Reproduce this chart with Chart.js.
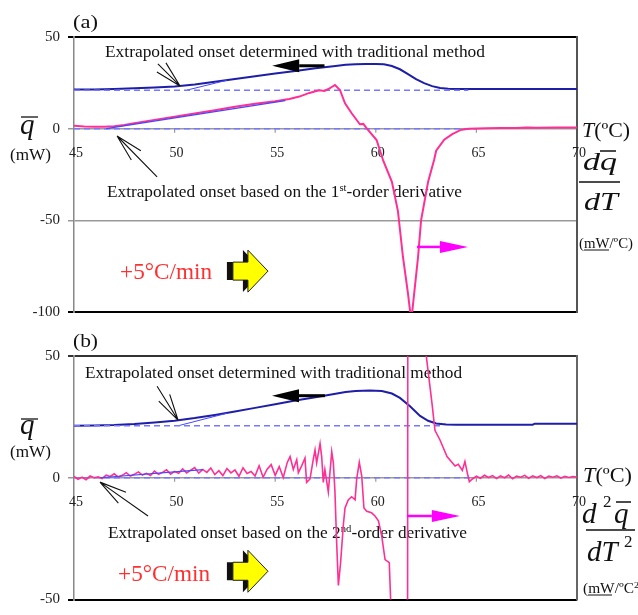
<!DOCTYPE html>
<html><head><meta charset="utf-8">
<script src="https://cdn.jsdelivr.net/npm/chart.js@4.4.1/dist/chart.umd.min.js"></script>
<style>
html,body{margin:0;padding:0;background:#fff;}
#wrap{position:relative;width:638px;height:615px;overflow:hidden;}
canvas{position:absolute;left:0;top:0;}
</style></head><body>
<div id="wrap">
<canvas id="ca" width="638" height="615"></canvas>
<canvas id="cb" width="638" height="615"></canvas>
</div>
<script>
const FONT = "'Liberation Serif', 'Times New Roman', serif";
const xTicks = [45, 50, 55, 60, 65, 70];

// ---- Panel (a): heat flow q and first derivative ----
const aHeatT = [45,46,47,48,49,50,51,52,53,54,55,56,57,58,58.5,59,59.5,60,60.4,60.8,61.2,61.6,62,62.4,62.8,63.2,63.6,64,66,70];
const aHeat  = [21.4,21.4,21.6,22.0,22.5,23.0,24.1,25.6,27.1,28.6,30.1,31.5,32.9,34.2,34.9,35.2,35.3,35.3,35.1,34.2,32.4,29.8,27.0,24.8,23.2,22.2,21.8,21.7,21.6,21.6];
const aBaseT = [45, 64.6];
const aBase  = [21.0, 21.0];
const aTanT  = [50.6, 52.6];
const aTan   = [21.0, 26.4];
const aDerivT = [45,45.5,46,46.5,47,47.5,48,49,50,51,52,53,54,55,55.7,56.2,56.7,57.0,57.2,57.45,57.7,57.85,57.97,58.22,58.47,58.8,59.21,59.38,59.55,60.04,60.37,60.8,61.1,61.35,61.6,61.72,61.8,62.1,62.25,62.6,62.9,63.0,63.4,63.8,64.2,64.6,65.5,66.2,67,67.5,68,69,70];
const aDeriv  = [1.6,1.2,1.0,1.0,1.3,2.0,3.0,4.8,6.5,8.3,10.1,12.0,13.6,15.0,16.2,17.5,19.5,20.4,21.0,20.6,22.0,23.0,23.8,21.1,13.8,8.4,2.4,2.6,0.2,-6.2,-17.5,-29,-45,-70,-90,-101,-101,-70,-50,-29,-17,-12,-6,-3,-0.8,0,0.2,0.4,0.3,0.6,0.5,0.6,0.7];
const aZeroT = [45, 65];
const aZero  = [0, 0];
const aDTanT = [46.6, 55.5];
const aDTan  = [0, 15.3];

// ---- Panel (b): heat flow q and second derivative ----
const bHeatT = [45,46,47,48,49,50,51,52,53,54,55,56,57,58,58.5,59,59.7,60.3,60.8,61.2,61.7,62.2,62.6,63.0,63.5,64,67.8,67.9,70];
const bHeat  = [21.4,21.5,21.7,22.1,22.7,23.4,24.5,25.8,27.2,28.7,30.2,31.7,33.1,34.5,35.2,35.6,35.8,35.6,34.6,32.8,29.4,25.4,23.4,22.3,21.9,21.8,21.8,22.2,22.2];
const bBaseT = [45, 63.3];
const bBase  = [21.4, 21.4];
const bTanT  = [50.2, 52.6];
const bTan   = [21.4, 26.5];
const bDerivT = [45.0,45.2,45.4,45.6,45.8,46.0,46.2,46.4,46.6,46.8,
  47.0,47.2,47.4,47.6,47.8,48.0,48.2,48.4,48.6,48.8,
  49.0,49.2,49.4,49.6,49.8,50.0,50.2,50.4,50.6,50.8,
  51.0,51.2,51.4,51.6,51.8,52.0,52.2,52.4,52.6,52.8,
  53.0,53.2,53.4,53.6,53.8,54.0,54.2,54.4,54.6,54.8,
  55.0,55.2,55.4,55.6,
  55.74,55.90,56.07,56.15,56.31,56.48,56.56,56.73,56.89,56.98,
  57.06,57.23,57.31,57.39,57.47,57.64,57.81,57.89,57.97,58.05,
  58.14,58.25,58.39,58.47,58.63,58.80,58.97,59.05,59.18,59.30,
  59.41,59.55,59.79,59.96,60.13,60.29,60.46,60.67,60.74,60.80,
  61.55,61.62,62.48,62.80,62.94,63.19,63.54,63.94,64.10,64.30,
  64.43,64.58,64.65,64.80,
  65.0,65.2,65.4,65.6,65.8,66.0,66.2,66.4,66.6,66.8,67.0,67.2,67.4,67.6,67.8,68.0,68.2,68.4,68.6,68.8,69.0,69.2,69.4,69.6,69.8,70.0];
const bDeriv = [0.5,-0.6,0.2,-0.8,0.7,0.0,0.4,-0.3,1.1,0.5,
  1.6,0.3,1.0,2.1,0.7,1.4,2.4,1.1,1.8,0.9,
  2.7,1.4,2.2,3.3,1.5,2.6,1.8,3.6,2.0,3.1,
  4.2,1.9,3.4,2.2,4.0,1.3,2.9,0.9,3.8,2.0,
  3.2,0.6,4.1,1.8,2.6,0.7,4.9,0.2,3.5,5.4,
  1.0,4.6,0.1,6.3,
  8.7,3.4,7.4,2.1,4.8,8.1,-1.9,-0.5,7.4,11.4,
  6.1,14.0,8.7,-1.9,3.4,-5.8,10.7,6.1,-5.8,-25.7,
  -44.2,-34.9,-19.1,-12.4,-9.1,-7.8,-9.1,-0.5,6.3,0.8,
  -12.4,-13.8,-14.4,-15.7,-17.7,-23.7,-33.6,-34.9,-50.8,-70,
  -400,400,52,30,19.5,15.5,8.7,4.8,5.5,3.0,
  6.7,0.8,-1.6,-0.5,
  0.6,-0.2,1.0,0.1,0.9,-0.3,0.8,0.0,1.1,-0.4,0.7,0.2,1.0,-0.2,0.8,0.1,0.9,-0.3,0.7,0.2,0.8,-0.1,0.6,0.1,0.5,0.3];
const bZeroT = [45, 64.7];
const bZero  = [0, 0];
const bDTanT = [46.3, 51.4];
const bDTan  = [0, 3.3];

const NAVY = '#1e1ea6', DASH = '#7878ff', THIN = '#4646ff', PINK = '#ff2f94';

function pts(xs, ys) { return xs.map((x, i) => ({x: x, y: ys[i]})); }
function ds(data, color, width, dash, order) {
  return {data: data, borderColor: color, borderWidth: width, borderDash: dash || [],
    pointRadius: 0, fill: false, tension: 0, order: order};
}

function rich(ctx, segs, x, y, size, width, color) {
  ctx.save();
  ctx.fillStyle = color || '#111';
  ctx.textBaseline = 'alphabetic';
  ctx.textAlign = 'left';
  let total = 0;
  const ms = segs.map(s => {
    const sz = size * (s.scale || 1);
    const f = (s.style || '') + ' ' + sz + 'px ' + FONT;
    ctx.font = f;
    const w = ctx.measureText(s.t).width;
    total += w;
    return {f: f, w: w, dy: (s.dy || 0) * size};
  });
  const k = width ? width / total : 1;
  ctx.translate(x, y); ctx.scale(k, 1);
  let cx = 0;
  segs.forEach((s, i) => { ctx.font = ms[i].f; ctx.fillText(s.t, cx, ms[i].dy); cx += ms[i].w; });
  ctx.restore();
}

function pointer(ctx, tip, tail, barb, ang) {
  ctx.save();
  ctx.strokeStyle = '#111'; ctx.lineWidth = 1.1;
  ctx.beginPath();
  ctx.moveTo(tail[0], tail[1]); ctx.lineTo(tip[0], tip[1]);
  const a = Math.atan2(tail[1] - tip[1], tail[0] - tip[0]);
  [-1, 1].forEach(s => {
    ctx.moveTo(tip[0], tip[1]);
    ctx.lineTo(tip[0] + barb * Math.cos(a + s * ang), tip[1] + barb * Math.sin(a + s * ang));
  });
  ctx.stroke();
  ctx.restore();
}

function flatArrow(ctx, x0, x1, yc, color, shaftW, headLen, headHalf) {
  const dir = x1 > x0 ? 1 : -1;
  const hb = x1 - dir * headLen;
  ctx.save();
  ctx.strokeStyle = color; ctx.fillStyle = color; ctx.lineWidth = shaftW;
  ctx.beginPath(); ctx.moveTo(x0, yc); ctx.lineTo(hb, yc); ctx.stroke();
  ctx.beginPath(); ctx.moveTo(x1, yc); ctx.lineTo(hb, yc - headHalf); ctx.lineTo(hb, yc + headHalf); ctx.closePath(); ctx.fill();
  ctx.restore();
}

function yellowArrow(ctx, xl, xt, yc) {
  const shape = (L, B, T) => {
    ctx.beginPath();
    ctx.moveTo(L, yc - 9); ctx.lineTo(B, yc - 9); ctx.lineTo(B, yc - 21); ctx.lineTo(T, yc);
    ctx.lineTo(B, yc + 21); ctx.lineTo(B, yc + 9); ctx.lineTo(L, yc + 9); ctx.closePath();
  };
  ctx.save();
  ctx.fillStyle = '#111';
  shape(xl, xl + 16, xt - 5); ctx.fill();
  ctx.fillStyle = '#ffff00'; ctx.strokeStyle = '#222'; ctx.lineWidth = 1;
  shape(xl + 6, xl + 21, xt); ctx.fill(); ctx.stroke();
  ctx.restore();
}

function panelPlugin(cfg) {
  return {
    id: 'panel' + cfg.id,
    beforeDatasetsDraw(chart) {
      const ctx = chart.ctx, ca = chart.chartArea, x = chart.scales.x, y = chart.scales.y;
      const X = v => x.getPixelForValue(v), Y = v => y.getPixelForValue(v);
      ctx.save();
      ctx.strokeStyle = cfg.rightColor; ctx.lineWidth = 2;
      ctx.beginPath(); ctx.moveTo(ca.right, ca.top - 1); ctx.lineTo(ca.right, ca.bottom + 1); ctx.stroke();
      const y0 = Y(0);
      ctx.strokeStyle = '#999'; ctx.lineWidth = 1.2;
      xTicks.forEach(t => {
        if (t > 45 && t < 70) { const px = X(t); ctx.beginPath(); ctx.moveTo(px, y0); ctx.lineTo(px, y0 + 4); ctx.stroke(); }
      });
      ctx.font = '14px ' + FONT; ctx.fillStyle = '#222'; ctx.textAlign = 'center'; ctx.textBaseline = 'middle';
      xTicks.forEach(t => ctx.fillText(String(t), X(t) + 2, y0 + 25));
      ctx.restore();
      rich(ctx, [{t: cfg.letter}], ca.left - 1, ca.top - 9, 18, 25);
      cfg.texts.forEach(tx => rich(ctx, tx.segs, X(tx.T), Y(tx.v) + tx.size * 0.33, tx.size, tx.width, tx.color));
      const L = cfg.left;
      rich(ctx, [{t: 'q', style: 'italic'}], 20, L.qBase, 29);
      ctx.save(); ctx.strokeStyle = '#111'; ctx.lineWidth = 1.3;
      ctx.beginPath(); ctx.moveTo(21, L.bar); ctx.lineTo(38, L.bar); ctx.stroke(); ctx.restore();
      rich(ctx, [{t: '(mW)'}], 10, L.mw + 5, 16, 41);
      cfg.right(ctx, ca);
    },
    afterDatasetsDraw(chart) {
      const ctx = chart.ctx, x = chart.scales.x, y = chart.scales.y;
      const X = v => x.getPixelForValue(v), Y = v => y.getPixelForValue(v);
      const A = cfg.arrows;
      flatArrow(ctx, X(A.black[1]), X(A.black[0]), Y(A.black[2]), '#000', 3, 27, 6.5);
      flatArrow(ctx, X(A.magenta[0]), X(A.magenta[1]), Y(A.magenta[2]), '#ff00ff', 2.5, 28, 6);
      yellowArrow(ctx, X(A.yellow[0]), X(A.yellow[1]), Y(A.yellow[2]));
      A.pointers.forEach(p => pointer(ctx, [X(p[0]), Y(p[1])], [X(p[2]), Y(p[3])], p[4], 0.24));
    }
  };
}

function makeOpts(yMin, yMax, padTop, padBottom, gridFn) {
  return {
    responsive: false, animation: false, events: [],
    layout: {padding: {left: 0, right: 61, top: padTop, bottom: padBottom}},
    plugins: {legend: {display: false}, tooltip: {enabled: false}},
    scales: {
      x: {type: 'linear', min: 45, max: 70, display: false},
      y: {type: 'linear', min: yMin, max: yMax,
        afterFit: s => { s.width = 74; },
        ticks: {stepSize: 50, font: {family: FONT, size: 15, lineHeight: 1}, color: '#222', padding: 8},
        grid: {color: c => gridFn(c.tick.value)[0], lineWidth: c => gridFn(c.tick.value)[1], tickLength: 6},
        border: {display: true, color: '#888', width: 1.5}
      }
    }
  };
}

const cfgA = {
  id: 'a', letter: '(a)', rightColor: '#555',
  texts: [
    {segs: [{t: 'Extrapolated onset determined with traditional method'}], T: 46.54, v: 41.8, size: 16, width: 380},
    {segs: [{t: 'Extrapolated onset based on the 1'}, {t: 'st', scale: 0.62, dy: -0.36}, {t: '-order derivative'}], T: 46.64, v: -34.5, size: 16, width: 355},
    {segs: [{t: '+5°C/min'}], T: 47.29, v: -77.7, size: 23, width: 92, color: '#ff3030'}
  ],
  arrows: {
    black: [54.85, 57.45, 34.3],
    magenta: [62.05, 64.58, -64.5],
    yellow: [52.6, 54.64, -77.7],
    pointers: [[50.27, 23.3, 49.17, 35.3, 27], [47.14, -4.0, 49.13, -26.3, 28]]
  },
  left: {qBase: 134, bar: 117, mw: 155},
  right: (ctx, ca) => {
    const r = ca.right;
    rich(ctx, [{t: 'T', style: 'italic'}, {t: '(ºC)'}], r + 5, 137, 22, 48);
    rich(ctx, [{t: 'dq', style: 'italic'}], r + 6, 170, 26, 34);
    rich(ctx, [{t: 'dT', style: 'italic'}], r + 7, 210, 26, 34);
    ctx.save(); ctx.strokeStyle = '#111'; ctx.lineWidth = 1.4;
    ctx.beginPath(); ctx.moveTo(r + 23, 151); ctx.lineTo(r + 39, 151);
    ctx.moveTo(r + 2, 182); ctx.lineTo(r + 43, 182); ctx.stroke();
    ctx.lineWidth = 1; ctx.beginPath(); ctx.moveTo(r + 7, 250); ctx.lineTo(r + 32, 250); ctx.stroke();
    ctx.restore();
    rich(ctx, [{t: '(mW/ºC)'}], r + 2, 248, 14, 54);
  }
};

new Chart(document.getElementById('ca'), {
  type: 'line',
  data: {datasets: [
    ds(pts(aDerivT, aDeriv), PINK, 2, null, 1),
    ds(pts(aDTanT, aDTan), THIN, 1.2, null, 0),
    ds(pts(aZeroT, aZero), DASH, 1.5, [6, 4], 2),
    ds(pts(aBaseT, aBase), DASH, 1.5, [6, 4], 3),
    ds(pts(aTanT, aTan), THIN, 1, null, 4),
    ds(pts(aHeatT, aHeat), NAVY, 2, null, 5)
  ]},
  options: makeOpts(-100, 50, 37, 303, v => (v === 50 || v === -100) ? ['#000', 2] : ['#999', 1.5]),
  plugins: [panelPlugin(cfgA)]
});

const cfgB = {
  id: 'b', letter: '(b)', rightColor: '#666',
  texts: [
    {segs: [{t: 'Extrapolated onset determined with traditional method'}], T: 45.55, v: 43.2, size: 16, width: 377},
    {segs: [{t: 'Extrapolated onset based on the 2'}, {t: 'nd', scale: 0.62, dy: -0.36}, {t: '-order derivative'}], T: 46.69, v: -22.5, size: 16, width: 359},
    {segs: [{t: '+5°C/min'}], T: 47.19, v: -39.2, size: 23, width: 92, color: '#ff3030'}
  ],
  arrows: {
    black: [54.84, 57.47, 33.7],
    magenta: [61.55, 64.18, -15.7],
    yellow: [52.6, 54.64, -38.4],
    pointers: [[50.17, 23.7, 49.13, 37.6, 27], [46.29, -1.8, 48.68, -15.7, 28]]
  },
  left: {qBase: 434, bar: 419, mw: 452},
  right: (ctx, ca) => {
    const r = ca.right;
    rich(ctx, [{t: 'T', style: 'italic'}, {t: '(ºC)'}], r + 6, 482, 22, 49);
    rich(ctx, [{t: 'd', style: 'italic'}], r + 5, 523, 29);
    rich(ctx, [{t: '2'}], r + 26, 507, 17);
    rich(ctx, [{t: 'q', style: 'italic'}], r + 37, 523, 29);
    rich(ctx, [{t: 'dT', style: 'italic'}], r + 10, 561, 29);
    rich(ctx, [{t: '2'}], r + 47, 547, 17);
    ctx.save(); ctx.strokeStyle = '#111'; ctx.lineWidth = 1.4;
    ctx.beginPath(); ctx.moveTo(r + 39, 502); ctx.lineTo(r + 54, 502);
    ctx.moveTo(r + 9, 530); ctx.lineTo(r + 58, 530); ctx.stroke();
    ctx.lineWidth = 1; ctx.beginPath(); ctx.moveTo(r + 11, 595); ctx.lineTo(r + 35, 595); ctx.stroke();
    ctx.restore();
    rich(ctx, [{t: '(mW/ºC'}, {t: '2', scale: 0.65, dy: -0.35}], r + 6, 593, 14, 56);
  }
};

new Chart(document.getElementById('cb'), {
  type: 'line',
  data: {datasets: [
    ds(pts(bDerivT, bDeriv), PINK, 1.6, null, 1),
    ds(pts(bDTanT, bDTan), THIN, 1.2, null, 0),
    ds(pts(bZeroT, bZero), DASH, 1.5, [6, 4], 2),
    ds(pts(bBaseT, bBase), DASH, 1.5, [6, 4], 3),
    ds(pts(bTanT, bTan), THIN, 1, null, 4),
    ds(pts(bHeatT, bHeat), NAVY, 2, null, 5)
  ]},
  options: makeOpts(-50, 50, 356, 8, v => v === 50 ? ['#333', 2] : (v === -50 ? ['#000', 2] : ['#999', 1.5])),
  plugins: [panelPlugin(cfgB)]
});
</script>
</body></html>
